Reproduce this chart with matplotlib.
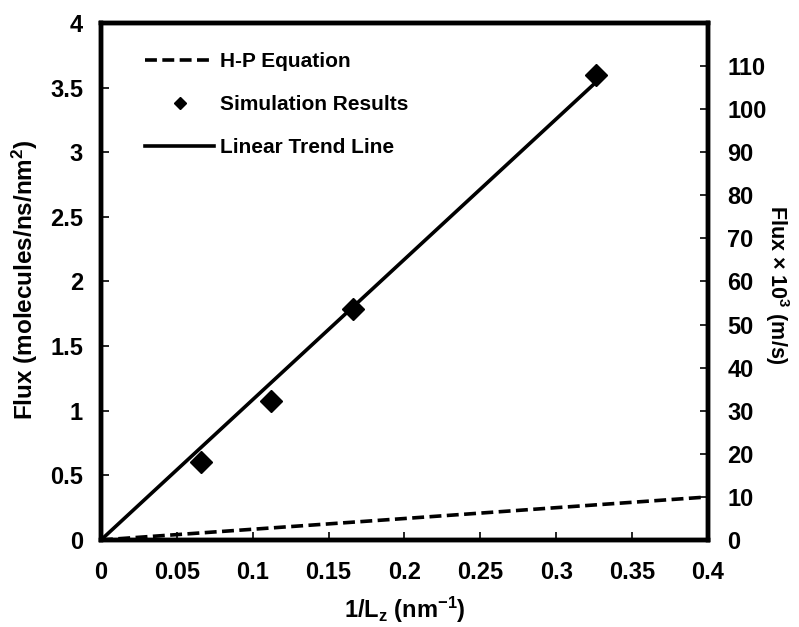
import numpy as np
import matplotlib
matplotlib.use("Agg")
import matplotlib.pyplot as plt

# Dados
sim_x = [0.066, 0.112, 0.166, 0.326]
sim_y = [0.60, 1.075, 1.785, 3.60]

trend_x = [0.0, 0.326]
trend_y = [0.0, 3.54]

hp_x = [0.0, 0.1, 0.2, 0.3, 0.4]
hp_y = [0.0, 0.083, 0.166, 0.25, 0.333]

xticks = [0, 0.05, 0.1, 0.15, 0.2, 0.25, 0.3, 0.35, 0.4]
xlabels = ['0', '0.05', '0.1', '0.15', '0.2', '0.25', '0.3', '0.35', '0.4']
yticks = [0, 0.5, 1, 1.5, 2, 2.5, 3, 3.5, 4]
ylabels = ['0', '0.5', '1', '1.5', '2', '2.5', '3', '3.5', '4']
y2ticks = [0, 10, 20, 30, 40, 50, 60, 70, 80, 90, 100, 110]

plt.rcParams['font.family'] = ['Liberation Sans', 'DejaVu Sans']
plt.rcParams['font.weight'] = 'bold'
plt.rcParams['mathtext.fontset'] = 'custom'
plt.rcParams['mathtext.rm'] = 'Liberation Sans:bold'
plt.rcParams['mathtext.bf'] = 'Liberation Sans:bold'
plt.rcParams['mathtext.it'] = 'Liberation Sans:bold'

fig = plt.figure(figsize=(7.99, 6.27), dpi=100)
ax = fig.add_axes([0.1264, 0.1388, 0.7597, 0.8245])

lw = 2.6
ax.plot(hp_x, hp_y, color='black', lw=lw, dashes=(3.3, 1.5), label='H-P Equation')
ax.plot(sim_x, sim_y, 'D', color='black', ms=11, label='Simulation Results')
ax.plot(trend_x, trend_y, color='black', lw=lw, label='Linear Trend Line')

ax.set_xlim(0, 0.4)
ax.set_ylim(0, 4)
ax.set_xticks(xticks)
ax.set_xticklabels(xlabels)
ax.set_yticks(yticks)
ax.set_yticklabels(ylabels)
ax.tick_params(direction='in', length=6, width=1.2, labelsize=17)
ax.tick_params(axis='x', pad=15)
ax.tick_params(axis='y', pad=13)
for s in ax.spines.values():
    s.set_linewidth(3.2)

ax2 = ax.twinx()
ax2.set_ylim(0, 120)
ax2.set_yticks(y2ticks)
ax2.tick_params(direction='in', length=6, width=1.2, labelsize=17, pad=14)
for s in ax2.spines.values():
    s.set_linewidth(3.2)

# rótulos dos eixos
fig.text(405 / 799, 1 - 610 / 627, r'1/L$_\mathrm{z}$ (nm$^\mathrm{-1}$)', fontsize=17,
         fontweight='bold', ha='center', va='center')
fig.text(25 / 799, 1 - 280 / 627, r'Flux (molecules/ns/nm$^\mathrm{2}$)', fontsize=17.5,
         fontweight='bold', ha='center', va='center', rotation=90)
fig.text(777 / 799, 1 - 285 / 627, r'Flux $\times$ 10$^\mathrm{3}$ (m/s)', fontsize=15.5,
         fontweight='bold', ha='center', va='center', rotation=270)

leg = ax.legend(loc='upper left', bbox_to_anchor=(0.059, 0.96), frameon=False,
                fontsize=15, handlelength=3.3, handletextpad=0.3,
                labelspacing=1.15, markerscale=0.6, borderaxespad=0)

fig.savefig('out.png', dpi=100)
